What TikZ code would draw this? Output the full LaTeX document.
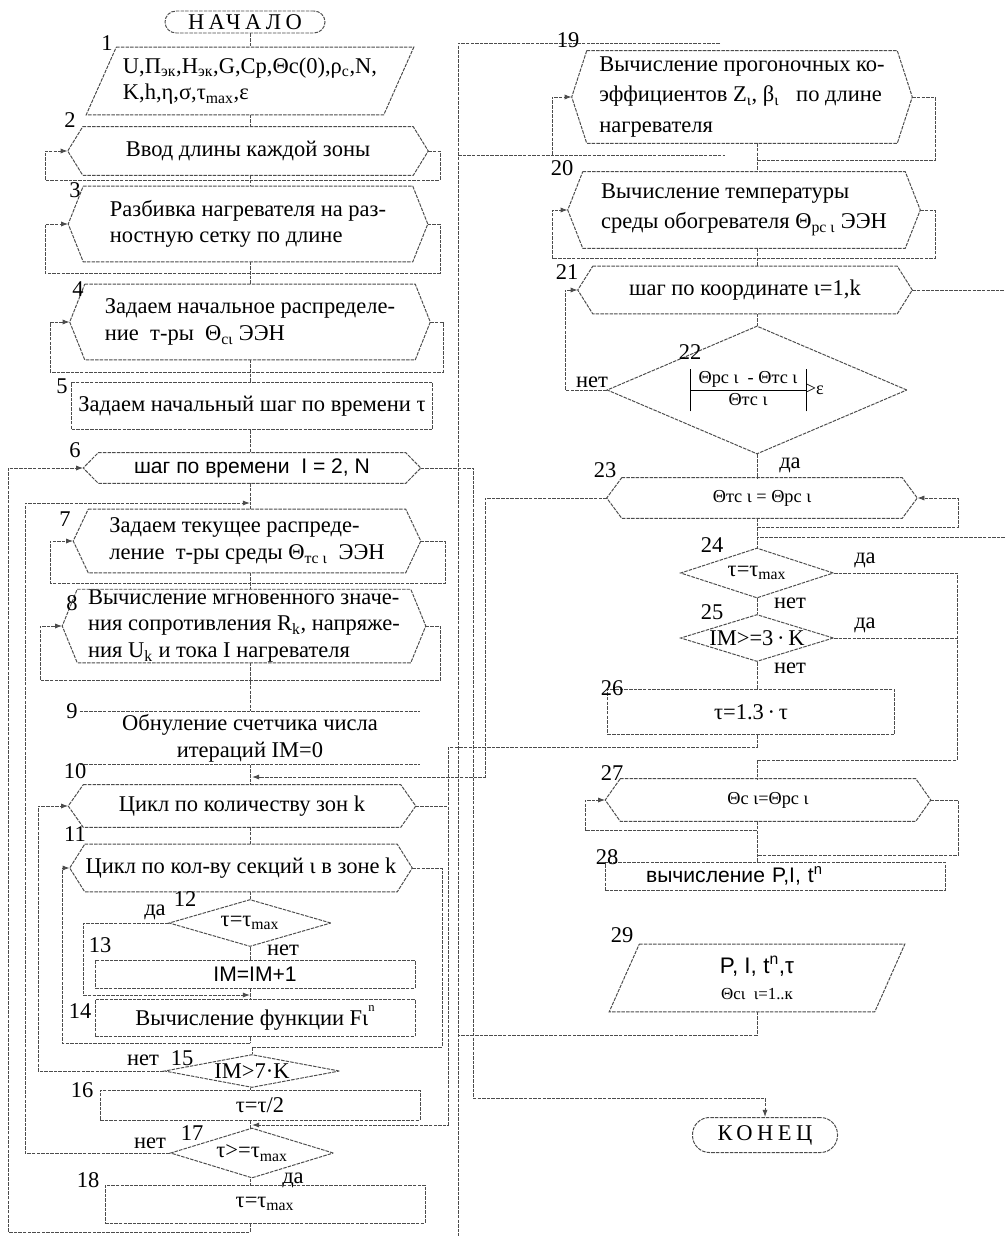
\documentclass[tikz,border=0pt]{standalone}
\usepackage{fontspec}
\setmainfont{Liberation Serif}
\setsansfont{Liberation Sans}
\usetikzlibrary{arrows.meta, positioning, shapes.geometric}
\newdimen\pxu \pxu=0.025cm
% outline of a loop (hexagon) block and of an input/output block
\newcommand\hexout[1]{\draw[wire] ([xshift=15\pxu]#1.north west) -- ([xshift=-15\pxu]#1.north east) -- (#1.east) -- ([xshift=-15\pxu]#1.south east) -- ([xshift=15\pxu]#1.south west) -- (#1.west) -- cycle;}
\newcommand\paraout[1]{\draw[wire] ([xshift=15\pxu]#1.north west) -- ([xshift=15\pxu]#1.north east) -- ([xshift=-15\pxu]#1.south east) -- ([xshift=-15\pxu]#1.south west) -- cycle;}

\begin{document}
\begin{tikzpicture}[x=0.025cm, y=-0.025cm,
  every node/.style={font=\fontsize{16}{19}\selectfont},
  outline/.style={draw=black!70, line width=0.7pt, dash pattern=on 2.5pt off 0.8pt},
  wire/.style={black!70, line width=0.7pt, dash pattern=on 2.5pt off 0.8pt},
  arr/.style={wire, -{Latex[length=1.8mm, width=1.3mm]}},
  termbox/.style={outline, rounded corners=11\pxu, inner sep=0pt},
  hexbox/.style={inner sep=0pt, align=left},
  procbox/.style={outline, inner sep=0pt, align=center},
  decision/.style={diamond, outline, inner sep=0pt},
  num/.style={inner sep=1pt},
  sans/.style={font=\sffamily\fontsize{15}{18}\selectfont},
  small/.style={font=\fontsize{13}{15}\selectfont},
  wide/.style={font=\fontsize{16}{21.5}\selectfont}
]
\useasboundingbox (0,0) rectangle (1005,1236);
\coordinate (lx) at (250,0);
\coordinate (rx) at (757,0);

% left column
\node[termbox, minimum width=160\pxu, minimum height=22\pxu] (start) at (245,22) {\addfontfeature{LetterSpace=20}НАЧАЛО};
\node[hexbox, minimum width=297\pxu, minimum height=67\pxu] (b1) at (250,81) {U,П\textsubscript{эк},Н\textsubscript{эк},G,Cp,Θc(0),ρ\textsubscript{c},N,\\K,h,η,σ,τ\textsubscript{max},ε};
\node[hexbox, minimum width=360\pxu, minimum height=48\pxu] (b2) at (248,151) {Ввод длины каждой зоны};
\node[hexbox, minimum width=359\pxu, minimum height=75\pxu] (b3) at (248,224) {Разбивка нагревателя на раз-\\ностную сетку по длине};
\node[hexbox, minimum width=360\pxu, minimum height=75\pxu] (b4) at (250,322) {Задаем начальное распределе-\\ние~~т-ры~~Θ\textsubscript{сι} ЭЭН};
\node[procbox, minimum width=361\pxu, minimum height=47\pxu] (b5) at (252,406) {Задаем начальный шаг по времени τ};
\node[hexbox, sans, minimum width=337\pxu, minimum height=30\pxu] (b6) at (252,468) {шаг по времени~~I = 2, N};
\node[hexbox, minimum width=347\pxu, minimum height=63\pxu] (b7) at (247,541) {Задаем текущее распреде-\\ление~~т-ры среды Θ\textsubscript{тс ι}~~ЭЭН};
\node[hexbox, minimum width=363\pxu, minimum height=66\pxu] (b8) at (244,626) {Вычисление мгновенного значе-\\ния сопротивления R\textsubscript{k}, напряже-\\ния U\textsubscript{k} и тока I нагревателя};
\node[inner sep=0pt, align=center, minimum width=340\pxu, minimum height=53\pxu] (b9) at (250,738) {Обнуление счетчика числа\\итераций IM=0};
\node[hexbox, minimum width=347\pxu, minimum height=42\pxu] (b10) at (242,806) {Цикл по количеству зон k};
\node[hexbox, minimum width=342\pxu, minimum height=47\pxu] (b11) at (241,868) {Цикл по кол-ву секций ι в зоне k};
\node[decision, minimum width=162\pxu, minimum height=47\pxu, label={center:τ=τ\textsubscript{max}}] (d12) at (250,923) {};
\node[procbox, sans, minimum width=320\pxu, minimum height=28\pxu] (b13) at (255,974) {IM=IM+1};
\node[procbox, minimum width=320\pxu, minimum height=37\pxu] (b14) at (255,1018) {Вычисление функции Fι\raisebox{1.4ex}{\small n}};
\node[decision, minimum width=175\pxu, minimum height=33\pxu, label={center:IM>7·K}] (d15) at (252,1071) {};
\node[procbox, minimum width=320\pxu, minimum height=30\pxu] (b16) at (260,1105) {τ=τ/2};
\node[decision, minimum width=163\pxu, minimum height=50\pxu, label={center:τ>=τ\textsubscript{max}}] (d17) at (252,1153) {};
\node[procbox, minimum width=320\pxu, minimum height=38\pxu] (b18) at (265,1204) {τ=τ\textsubscript{max}};

% right column
\node[hexbox, wide, minimum width=340\pxu, minimum height=92\pxu] (b19) at (742,97) {Вычисление прогоночных ко-\\эффициентов Z\textsubscript{ι}, β\textsubscript{ι}~~ по длине\\нагревателя};
\node[hexbox, wide, minimum width=352\pxu, minimum height=76\pxu] (b20) at (744,210) {Вычисление температуры\\среды обогревателя Θ\textsubscript{рс ι} ЭЭН};
\node[hexbox, minimum width=334\pxu, minimum height=47\pxu] (b21) at (745,290) {шаг по координате ι=1,k};
\node[decision, minimum width=300\pxu, minimum height=128\pxu] (d22) at (757,390) {};
\node[small] (t22) at (d22) {\begin{tabular}{|c|}Θрс ι~~-~Θтс ι\\\hline Θтс ι\end{tabular}>ε};
\node[hexbox, small, minimum width=310\pxu, minimum height=40\pxu] (b23) at (762,498) {Θтс ι = Θрс ι};
\node[decision, minimum width=153\pxu, minimum height=50\pxu, label={center:τ=τ\textsubscript{max}}] (d24) at (757,573) {};
\node[decision, minimum width=153\pxu, minimum height=47\pxu, label={center:IM>=3\,·\,K}] (d25) at (757,638) {};
\node[procbox, minimum width=287\pxu, minimum height=45\pxu] (b26) at (751,712) {τ=1.3\,·\,τ};
\node[hexbox, small, minimum width=325\pxu, minimum height=42\pxu] (b27) at (768,800) {Θс ι=Θрс ι};
\node[procbox, sans, minimum width=340\pxu, minimum height=28\pxu, text width=300\pxu, align=left] (b28) at (775,876) {\hspace*{1em}вычисление P,I, t\textsuperscript{n}};
\node[inner sep=0pt, align=center, minimum width=265\pxu, minimum height=67\pxu] (b29) at (757,978) {{\sffamily P, I, t\textsuperscript{n},τ}\\{\fontsize{12}{14}\selectfont Θсι~~ι=1..к}};
\node[termbox, rounded corners=17\pxu, minimum width=145\pxu, minimum height=35\pxu] (end) at (765,1135) {\addfontfeature{LetterSpace=20}КОНЕЦ};

% outlines
\foreach \n in {b2,b3,b4,b6,b7,b8,b10,b11,b19,b20,b21,b23,b27} {\hexout{\n}}
\paraout{b1}
\paraout{b29}
\draw[wire] (b9.north west) -- (b9.north east);
\draw[wire] (b9.south west) -- (b9.south east);

% block numbers
\foreach \t/\x/\y in {1/107/43, 2/70/120, 3/75/190, 4/78/289, 5/62/386, 6/75/450, 7/65/519, 8/72/603, 9/72/711, 10/75/771, 11/75/834, 12/185/899, 13/100/945, 14/80/1011, 15/182/1058, 16/82/1090, 17/192/1133, 18/88/1180, 19/568/40, 20/562/168, 21/567/272, 22/690/352, 23/605/470, 24/712/545, 25/712/612, 26/612/688, 27/612/773, 28/607/857, 29/622/935}
  \node[num] (n\t) at (\x,\y) {\t};

% yes / no marks
\node (y12) at (155,912) {да};
\node (no12) at (283,950) {нет};
\node (no15) at (143,1060) {нет};
\node (no17) at (150,1143) {нет};
\node (y17) at (293,1180) {да};
\node (no22) at (592,382) {нет};
\node (y22) at (790,465) {да};
\node (y24) at (865,560) {да};
\node (no24) at (790,603) {нет};
\node (y25) at (865,625) {да};
\node (no25) at (790,668) {нет};

% main flow, left
\foreach \a/\b in {start/b1, b1/b2, b2/b3, b3/b4, b4/b5, b5/b6, b6/b7, b7/b8, b8/b9, b9/b10, b10/b11, b11/d12, d12/b13, b13/b14, d15/b16, b16/d17, d17/b18}
  \draw[wire] (lx |- \a.south) -- (lx |- \b.north);
\draw[wire] (lx |- b14.south) -- (250,1043);

% loops, left
\draw[arr] (b2.east) -| (440,180) -- (45,180) |- (b2.west);
\draw[arr] (b3.east) -| (440,273) -- (45,273) |- (b3.west);
\draw[arr] (b4.east) -| (443,372) -- (50,372) |- (b4.west);
\draw[arr] (b7.east) -| (445,583) -- (50,583) |- (b7.west);
\draw[arr] (b8.east) -| (440,680) -- (40,680) |- (b8.west);
\draw[arr] (lx |- b18.south) -- (250,1232) -| (8,468) -- (b6.west);
\draw[arr] (b6.east) -- (473,468) -- (473,1098) -| (end.north);
\draw[arr] (d17.west) -| (25,503) -- (250,503);
\draw[arr] (d12.west) -| (83,995) -- (250,995);
\draw[arr] (250,1043) -| (62,868) -- (b11.west);
\draw[wire] (b11.east) -| (442,1047) -| (d15.north);
\draw[arr] (d15.west) -| (38,806) -- (b10.west);
\draw[wire] (b10.east) -- (448,806);

% main flow, right
\foreach \a/\b in {b19/b20, b20/b21, b21/d22, d22/b23, b23/d24, d24/d25, d25/b26, b27/b28}
  \draw[wire] (rx |- \a.south) -- (rx |- \b.north);
\draw[wire] (757,760) -- (rx |- b27.north);

% loops and branches, right
\draw[wire] (720,43) -- (458,43) -- (458,1236);
\draw[wire] (458,155) -- (725,155);
\draw[arr] (552,155) |- (b19.west);
\draw[wire] (b19.east) -| (935,160) -- (757,160);
\draw[arr] (b20.east) -| (935,258) -- (552,258) |- (b20.west);
\draw[wire] (b21.east) -- (1005,290);
\draw[arr] (d22.west) -| (565,290) -- (b21.west);
\draw[arr] (b23.west) -- (485,498) -- (485,777) -- (252,777);
\draw[arr] (757,527) -| (958,498) -- (b23.east);
\draw[wire] (1005,537) -- (757,537);
\draw[wire] (d24.east) -| (957,760) -- (757,760);
\draw[wire] (d25.east) -- (957,638);
\draw[arr] (rx |- b26.south) -- (757,747) -| (448,1125) -- (252,1125);
\draw[arr] (757,830) -| (585,800) -- (b27.west);
\draw[wire] (b27.east) -| (958,855) -- (757,855);
\draw[wire] (b29.south) -- (757,1035) -- (458,1035);
\end{tikzpicture}
\end{document}
